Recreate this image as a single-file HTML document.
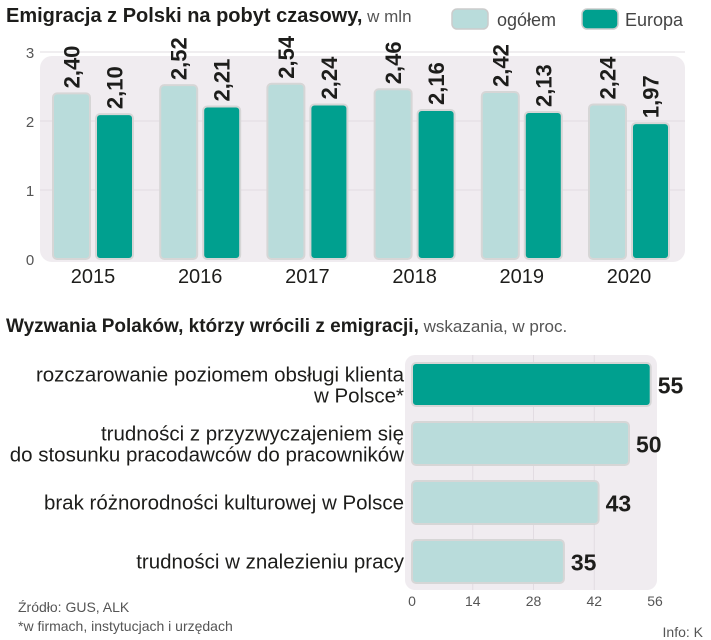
<!DOCTYPE html>
<html><head><meta charset="utf-8">
<style>
body{margin:0;background:#fff;}
svg{display:block;font-family:"Liberation Sans",sans-serif;}
.b{font-family:"Liberation Sans Narrow","Liberation Sans",sans-serif;font-weight:bold;fill:#1d1d1b;}
</style></head>
<body>
<svg id="c" width="711" height="640" viewBox="0 0 711 640" xmlns="http://www.w3.org/2000/svg">
<text x="6" y="22" font-size="19" fill="#1d1d1b"><tspan class="b" font-size="20">Emigracja z Polski na pobyt czasowy,</tspan><tspan fill="#555" font-size="17"> w mln</tspan></text>
<g>
<rect x="452" y="9" width="36" height="20" rx="5" fill="#b9dcdb" stroke="#ccc" stroke-width="1.5"/>
<text x="497" y="26" font-size="18" fill="#444">ogółem</text>
<rect x="582" y="9" width="36" height="20" rx="5" fill="#00a08f" stroke="#ccc" stroke-width="1.5"/>
<text x="625" y="26" font-size="18" fill="#444">Europa</text>
</g>
<rect x="40" y="56" width="645" height="206" rx="12" fill="#f0ecf0"/>
<g id="topchart"></g>
<text x="6" y="332" font-size="19"><tspan class="b" font-size="19">Wyzwania Polaków, którzy wrócili z emigracji,</tspan><tspan fill="#555" font-size="17"> wskazania, w proc.</tspan></text>
<rect x="405" y="355" width="252" height="235" rx="10" fill="#f0ecf0"/>
<g id="botchart"></g>
<text x="18" y="612" font-size="14" fill="#555">Źródło: GUS, ALK</text>
<text x="18" y="631" font-size="14" fill="#555">*w firmach, instytucjach i urzędach</text>
<text x="703" y="637" font-size="14" fill="#555" text-anchor="end">Info: K</text>
</svg>
<script>
const years = ["2015","2016","2017","2018","2019","2020"];
const ogolem = [2.40,2.52,2.54,2.46,2.42,2.24];
const europa = [2.10,2.21,2.24,2.16,2.13,1.97];
const yTicks = [0,1,2,3];
const categories = [["rozczarowanie poziomem obsługi klienta","w Polsce*"],["trudności z przyzwyczajeniem się","do stosunku pracodawców do pracowników"],["brak różnorodności kulturowej w Polsce"],["trudności w znalezieniu pracy"]];
const shares = [55,50,43,35];
const xTicks = [0,14,28,42,56];

(function(){
const NS="http://www.w3.org/2000/svg";
function mk(tag,attrs,parent,txt){const e=document.createElementNS(NS,tag);for(const k in attrs)e.setAttribute(k,attrs[k]);if(txt!==undefined)e.textContent=txt;parent.appendChild(e);return e;}
const fmt=v=>v.toFixed(2).replace('.',',');

const topG=document.getElementById('topchart');
const yS=v=>259-v*69;
const gx=i=>53+i*107.2;
const bw=37;
yTicks.forEach(t=>{
  if(t>0){const l=mk('line',{x1:40,x2:685,y1:yS(t),y2:yS(t),stroke:'#e2dce2','stroke-width':1},topG);
  
  }
  const tx=mk('text',{x:30,y:yS(t)+6,'font-size':15,fill:'#555','text-anchor':'middle'},topG,String(t));
  
  
});
years.forEach((yr,i)=>{
  [[ogolem,'#b9dcdb',0],[europa,'#00a08f',bw+6]].forEach(([arr,col,off])=>{
    const xx=gx(i)+off,v=arr[i];
    const r=mk('rect',{x:xx,y:yS(v),width:bw,height:yS(0)-yS(v),rx:4,fill:col,stroke:'#d6d6d6','stroke-width':2},topG);
    
    
    const t=mk('text',{class:'b','font-size':22,transform:`translate(${xx+bw/2+8},${yS(v)-5}) rotate(-90)`},topG,fmt(v));
    
    
  });
  const yl=mk('text',{x:gx(i)+bw+3,y:283,'font-size':20,fill:'#1d1d1b','text-anchor':'middle'},topG,yr);
  
  
});

const botG=document.getElementById('botchart');
const xS=v=>412+v*4.34;
const by=i=>363+i*59;
const bh=43;
xTicks.forEach(t=>{
  if(t>0&&t<56){const l=mk('line',{x1:xS(t),x2:xS(t),y1:355,y2:590,stroke:'#e2dce2','stroke-width':1},botG);
  
  }
  const tx=mk('text',{x:xS(t),y:606,'font-size':14,fill:'#555','text-anchor':'middle'},botG,String(t));
  
  
});
categories.forEach((c,i)=>{
  const v=shares[i];
  const r=mk('rect',{x:xS(0),y:by(i),width:xS(v)-xS(0),height:bh,rx:4,fill:i===0?'#00a08f':'#b9dcdb',stroke:'#d6d6d6','stroke-width':2},botG);
  
  
  const vt=mk('text',{class:'b','font-size':23,x:xS(v)+7,y:by(i)+bh/2+9},botG,String(v));
  
  
  const cy=by(i)+bh/2;
  c.forEach((line,j)=>{
    const yy=c.length===1?cy+7:cy-3+j*21;
    const lt=mk('text',{x:404,y:yy,'font-size':20.5,fill:'#1d1d1b','text-anchor':'end'},botG,line);
    
    
  });
});
})();
</script>
</body></html>
